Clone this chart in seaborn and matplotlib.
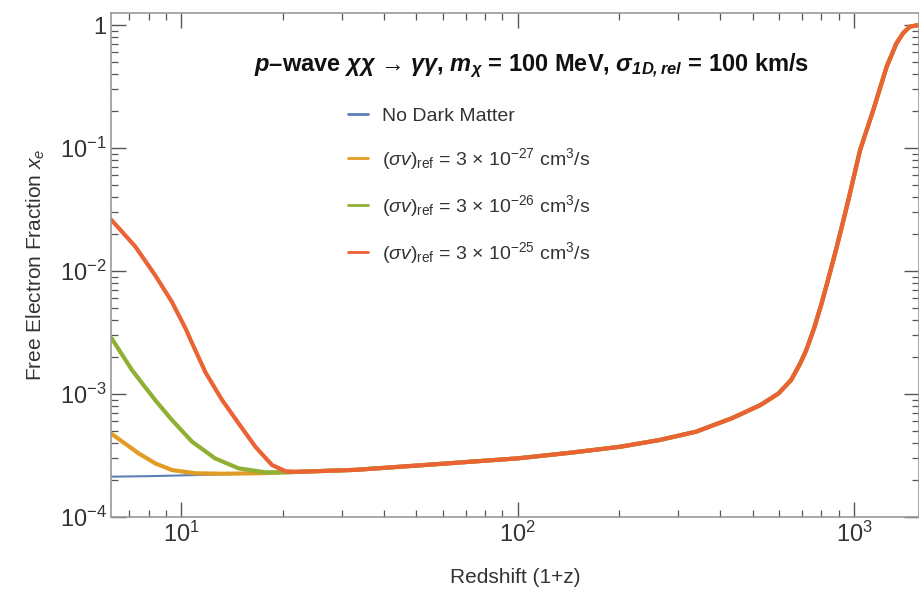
import numpy as np
import pandas as pd
import matplotlib
matplotlib.use("Agg")
import matplotlib.pyplot as plt
import matplotlib.ticker as mticker
from matplotlib.lines import Line2D
import seaborn as sns

# No dark matter curve
z_base = [6.2, 8, 10, 13, 17, 22, 33, 53, 100, 143, 202, 264, 339, 433, 527, 596,
          650, 690, 720, 760, 800, 840, 880, 920, 962, 1042, 1141, 1250, 1337, 1400,
          1465, 1560]
xe_base = [2.13e-4, 2.15e-4, 2.18e-4, 2.22e-4, 2.27e-4, 2.33e-4, 2.42e-4, 2.65e-4,
           3.0e-4, 3.33e-4, 3.73e-4, 4.23e-4, 4.94e-4, 6.35e-4, 8.14e-4, 1.01e-3,
           1.30e-3, 1.75e-3, 2.25e-3, 3.4e-3, 5.4e-3, 8.8e-3, 1.42e-2, 2.3e-2, 3.78e-2,
           9.6e-2, 0.204, 0.458, 0.71, 0.86, 0.97, 1.0]

# annihilating DM curves, low-z part only (they join the baseline afterwards)
z_27 = [6.2, 7.46, 8.37, 9.38, 11.0, 13.2, 17]
xe_27 = [4.75e-4, 3.3e-4, 2.73e-4, 2.41e-4, 2.27e-4, 2.25e-4, 2.27e-4]
z_26 = [6.2, 7.13, 8.37, 9.38, 10.76, 12.6, 14.8, 17.8, 20.8]
xe_26 = [2.85e-3, 1.57e-3, 8.9e-4, 6.15e-4, 4.1e-4, 3.0e-4, 2.49e-4, 2.31e-4, 2.31e-4]
z_25 = [6.2, 7.3, 8.37, 9.38, 10.3, 10.76, 11.8, 13.2, 14.8, 16.6, 18.6, 20.4]
xe_25 = [2.6e-2, 1.58e-2, 9.2e-3, 5.6e-3, 3.4e-3, 2.6e-3, 1.5e-3, 9.0e-4, 5.78e-4,
         3.73e-4, 2.65e-4, 2.36e-4]

labels = ["No Dark Matter",
          r"$(\sigma v)_{\rm ref}$ = 3 $\times$ 10$^{-27}$ cm$^3$/s",
          r"$(\sigma v)_{\rm ref}$ = 3 $\times$ 10$^{-26}$ cm$^3$/s",
          r"$(\sigma v)_{\rm ref}$ = 3 $\times$ 10$^{-25}$ cm$^3$/s"]
colors = ["#5E81B5", "#E19C24", "#8FB032", "#EB6235"]
widths = [1.5, 3.0, 3.0, 3.0]


def with_tail(z, xe):
    zb = np.array(z_base)
    xb = np.array(xe_base)
    keep = zb > max(z)
    return list(z) + list(zb[keep]), list(xe) + list(xb[keep])


series = [(z_base, xe_base), with_tail(z_27, xe_27), with_tail(z_26, xe_26),
          with_tail(z_25, xe_25)]

frames = []
for lab, (z, xe) in zip(labels, series):
    frames.append(pd.DataFrame({"z": z, "xe": xe, "model": lab}))
df = pd.concat(frames, ignore_index=True)

sns.set_style("ticks")
plt.rcParams["font.family"] = ["Liberation Sans", "DejaVu Sans"]
plt.rcParams["mathtext.fontset"] = "custom"
plt.rcParams["mathtext.rm"] = "Liberation Sans"
plt.rcParams["mathtext.it"] = "Liberation Sans:italic"
plt.rcParams["mathtext.bf"] = "Liberation Sans:bold"
plt.rcParams["mathtext.bfit"] = "Liberation Sans:italic:bold"

fig = plt.figure(figsize=(9.19, 5.95), dpi=100)
ax = fig.add_axes([0.1213, 0.131, 0.8787, 0.847])

for lab, col, lw in zip(labels, colors, widths):
    sns.lineplot(data=df[df["model"] == lab], x="z", y="xe", color=col, lw=lw,
                 sort=False, estimator=None, ax=ax, legend=False)

ax.set_xscale("log")
ax.set_yscale("log")
ax.set_xlim(6.2, 1560)
ax.set_ylim(1e-4, 1.25)

ax.yaxis.set_major_locator(mticker.FixedLocator([1e-4, 1e-3, 1e-2, 1e-1, 1]))
ax.yaxis.set_major_formatter(mticker.FixedFormatter(
    [r"10$^{-4}$", r"10$^{-3}$", r"10$^{-2}$", r"10$^{-1}$", "1"]))
ax.xaxis.set_major_locator(mticker.FixedLocator([10, 100, 1000]))
ax.xaxis.set_major_formatter(mticker.FixedFormatter(
    [r"10$^1$", r"10$^2$", r"10$^3$"]))
ax.xaxis.set_minor_locator(mticker.LogLocator(base=10, subs=np.arange(2, 10)))
ax.yaxis.set_minor_locator(mticker.LogLocator(base=10, subs=np.arange(2, 10)))
ax.xaxis.set_minor_formatter(mticker.NullFormatter())
ax.yaxis.set_minor_formatter(mticker.NullFormatter())

ax.tick_params(which="both", direction="in", top=True, right=True, color="#555555")
ax.tick_params(which="major", length=11, width=1.0, labelsize=17, labelcolor="#333333")
ax.tick_params(which="minor", length=5, width=0.9)
for sp in ax.spines.values():
    sp.set_color("#999999")
    sp.set_linewidth(1.2)

ax.set_xlabel("Redshift (1+z)", fontsize=15, color="#333333", labelpad=15)
ax.set_ylabel(r"Free Electron Fraction $x_e$", fontsize=15, color="#333333", labelpad=9)

ax.text(0.52, 0.895,
        r"$\mathbfit{p}$–wave $\mathbfit{\chi\chi}$ → $\mathbfit{\gamma\gamma}$, "
        r"$\mathbfit{m}_{\mathbfit{\chi}}$ = 100 MeV, "
        r"$\mathbfit{\sigma}_{\mathbfit{1D,rel}}$ = 100 km/s",
        transform=ax.transAxes, ha="center", va="center", fontsize=17,
        fontweight="bold", color="#111111")

handles = [Line2D([], [], color=c, lw=2) for c in colors]
leg = ax.legend(handles, labels, loc="upper left", bbox_to_anchor=(0.293, 0.813),
                frameon=False, fontsize=14, handlelength=1.0, handletextpad=0.77,
                labelspacing=1.08, borderpad=0, borderaxespad=0)
for t in leg.get_texts():
    t.set_color("#333333")

fig.savefig("out.png", dpi=100)
